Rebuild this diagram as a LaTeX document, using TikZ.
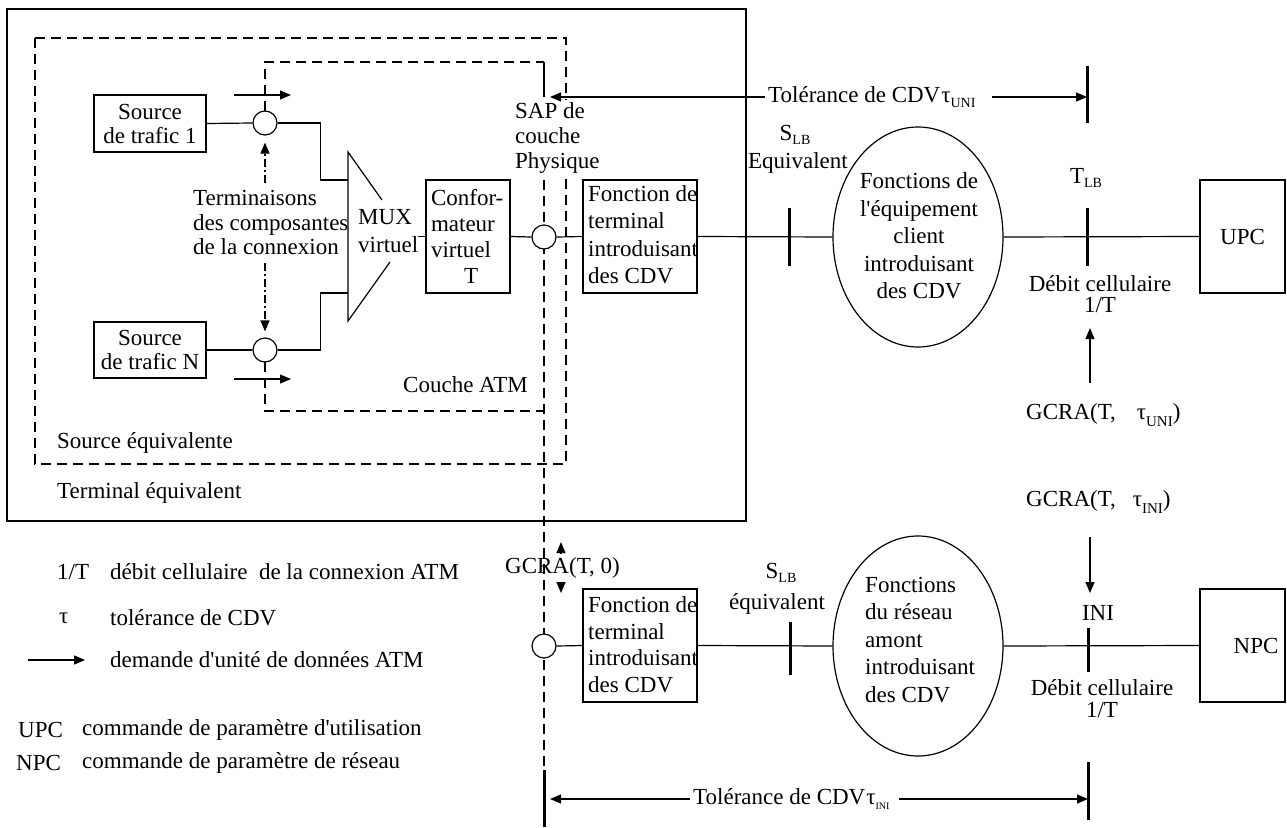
\documentclass[tikz,border=0pt]{standalone}
\usepackage{fontspec}
\setmainfont{Liberation Serif}
\usetikzlibrary{arrows.meta,shapes.geometric}
\newcommand\subs[1]{\raisebox{-0.45ex}{\fontsize{14}{14}\selectfont #1}}
\newcommand\tinysub[1]{\raisebox{-0.45ex}{\fontsize{10}{10}\selectfont #1}}
\newcommand\qs{\textquotesingle}
\begin{document}
\begin{tikzpicture}[x=1pt,y=-1pt,font=\fontsize{23}{27}\selectfont,
  ln/.style={line width=1.2pt},
  box/.style={draw,line width=1.2pt,inner sep=0pt},
  tk/.style={line width=3pt},
  dbox/.style={line width=2.4pt,dash pattern=on 10pt off 6pt},
  arr/.style={line width=1.2pt,-{Triangle[length=11pt,width=9pt]}},
  ddarr/.style={line width=1.2pt,dash pattern=on 8pt off 3pt on 2pt off 3pt,-{Triangle[length=11pt,width=9pt]}},
  circ/.style={circle,draw,fill=white,line width=1.2pt,minimum size=24pt,inner sep=0pt},
  txt/.style={inner sep=0pt}]
\useasboundingbox (0,0) rectangle (1287,827);

% frames
\draw[ln] (7,9) rectangle (746,521);
\draw[dbox] (35,38) rectangle (566,464);
\draw[dbox] (265,111) -- (265,62) -- (544,62);
\draw[dbox] (265,362) -- (265,411) -- (544,411);
\draw[dbox] (544,180) -- (544,770);
\draw[line width=2.4pt] (544,62) -- (544,97);
\draw[tk] (544,770) -- (544,827);

% nodes
\node[box,minimum width=112pt,minimum height=57pt,align=center,font=\fontsize{23}{24}\selectfont] (s1) at (150,123.5) {Source\\de trafic 1};
\node[box,minimum width=112pt,minimum height=56pt,align=center,font=\fontsize{23}{24}\selectfont] (sN) at (150,350) {Source\\de trafic N};
\node[circ] (c1) at (265,123) {};
\node[circ] (cN) at (265,350) {};
\node[circ] (cS) at (544,237) {};
\node[circ] (cL) at (544,646) {};
\coordinate (m1) at (348,180);
\coordinate (m2) at (348,293);
\draw[ln] (382,200) -- (348,152) -- (348,321) -- (390,262);
\node[txt,anchor=west,align=left,font=\fontsize{23}{28}\selectfont] (mux) at (358,231) {MUX\\virtuel};
\node[box,text width=74pt,inner xsep=5pt,minimum height=113pt,align=left,font=\fontsize{23}{26}\selectfont] (conf) at (468,236.5) {Confor-\\mateur\\virtuel\\\hspace*{33pt}T};
\node[box,minimum width=114pt,minimum height=113pt] (fu) at (640,236.5) {};
\node[txt,anchor=west,align=left,font=\fontsize{23}{27.5}\selectfont] (fut) at (588,234.5) {Fonction de\\terminal\\introduisant\\des CDV};
\node[box,minimum width=114pt,minimum height=113pt] (fl) at (640,645.5) {};
\node[txt,anchor=west,align=left,font=\fontsize{23}{26.5}\selectfont] (flt) at (588,644.5) {Fonction de\\terminal\\introduisant\\des CDV};
\node[ellipse,draw,line width=1.2pt,minimum width=170pt,minimum height=220pt,inner sep=0pt] (eu) at (918,237) {};
\node[txt,align=center,font=\fontsize{23}{27.5}\selectfont] (eut) at (919,236) {Fonctions de\\l\qs équipement\\client\\introduisant\\des CDV};
\node[ellipse,draw,line width=1.2pt,minimum width=170pt,minimum height=220pt,inner sep=0pt] (el) at (918,646) {};
\node[txt,anchor=west,align=left,font=\fontsize{23}{27.5}\selectfont] (elt) at (865,640) {Fonctions\\du réseau\\amont\\introduisant\\des CDV};
\node[box,minimum width=85pt,minimum height=113pt] (upc) at (1242.5,236.5) {UPC};
\node[box,minimum width=85pt,minimum height=113pt] (npc) at (1242.5,645.5) {};
\node[txt] (npct) at (1256,646) {NPC};

% connectors
\draw[ln] (s1.east) -- (c1.west);
\draw[ln] (sN.east) -- (cN.west);
\draw[ln] (c1.east) -- ++(43,0) |- (m1);
\draw[ln] (cN.east) -- ++(43,0) |- (m2);
\draw[ln] (conf.west) -- (conf.west -| mux.east);
\draw[ln] (conf.east) -- (cS.west);
\draw[ln] (cS.east) -- (fu.west);
\draw[ln] (fu.east) -- (eu.west);
\draw[ln] (eu.east) -- (upc.west);
\draw[ln] (cL.east) -- (fl.west);
\draw[ln] (fl.east) -- (el.west);
\draw[ln] (el.east) -- (npc.west);

% ticks
\draw[tk] (789,208) -- (789,266);
\draw[tk] (1087,208) -- (1087,266);
\draw[tk] (790,622) -- (790,675);
\draw[tk] (1088,628) -- (1088,672);
\draw[tk] (1087,66) -- (1087,123);
\draw[tk] (1088,762) -- (1088,820);

% request arrows
\draw[arr] (234,95) -- (291,95);
\draw[arr] (234,379) -- (291,379);

% terminaisons
\node[txt,anchor=west,align=left,font=\fontsize{23}{24.5}\selectfont] (term) at (193,222.5) {Terminaisons\\des composantes\\de la connexion};
\coordinate (tA) at (265,183);
\coordinate (tB) at (265,263);
\draw[ddarr,shorten >=7pt] (tA) -- (c1.south);
\draw[ddarr,shorten >=6pt] (tB) -- (cN.north);

% labels in terminal
\node[txt,anchor=west,align=left,fill=white,inner ysep=3pt,font=\fontsize{23}{25}\selectfont] (sap) at (515,138) {SAP de\\couche\\Physique};
\node[txt,anchor=west] (catm) at (403,385) {Couche ATM};
\node[txt,anchor=west] (seq) at (57,443) {Source équivalente};
\node[txt,anchor=west] (teq) at (57,493) {Terminal équivalent};

% tolerance UNI
\node[txt,anchor=west,inner xsep=3pt] (tolU) at (765,97) {Tolérance de CDV\kern1pt τ\subs{UNI}};
\coordinate (sapTip) at (550,97);
\coordinate (tlbTop) at (1087,97);
\draw[arr] (tolU.west) -- (sapTip);
\draw[arr] ([xshift=13pt]tolU.east) -- (tlbTop);

% tolerance INI
\node[txt,anchor=west,inner xsep=3pt] (tolI) at (690,799) {Tolérance de CDV\kern1pt τ\tinysub{INI}};
\coordinate (iniL) at (550,799);
\coordinate (iniR) at (1088,799);
\draw[arr] (tolI.west) -- (iniL);
\draw[arr] ([xshift=6pt]tolI.east) -- (iniR);

% S_LB, T_LB etc
\node[txt] (slbU) at (795,135) {S\subs{LB}};
\node[txt] (equU) at (798,163) {Equivalent};
\node[txt] (slbL) at (781,573) {S\subs{LB}};
\node[txt] (equL) at (777,604) {équivalent};
\node[txt] (tlb) at (1086,178) {T\subs{LB}};
\node[txt] (ini) at (1098,613) {INI};
\node[txt,align=center,font=\fontsize{23}{21.5}\selectfont] (debU) at (1100,294) {Débit cellulaire\\1/T};
\node[txt,align=center,font=\fontsize{23}{22}\selectfont] (debL) at (1102,699) {Débit cellulaire\\1/T};
\node[txt,anchor=west] (gU) at (1026,415) {GCRA(T,\hspace{21pt}τ\raisebox{-0.7ex}{\fontsize{15}{15}\selectfont UNI})};
\node[txt,anchor=west] (gI) at (1026,502) {GCRA(T,\hspace{17pt}τ\raisebox{-0.7ex}{\fontsize{15}{15}\selectfont INI})};
\coordinate (gua) at (1090,383);
\coordinate (gub) at (1090,328);
\draw[arr] (gua) -- (gub);
\coordinate (gib) at (1090,537);
\coordinate (gie) at (1090,593);
\draw[arr] (gib) -- (gie);

% GCRA(T,0)
\node[txt,anchor=west] (g0) at (505,568) {GCRA(T, 0)};
\coordinate (g0u1) at (561,553);
\coordinate (g0u2) at (561,542);
\coordinate (g0d1) at (561,582);
\coordinate (g0d2) at (561,593);
\draw[arr] (g0u1) -- (g0u2);
\draw[arr] (g0d1) -- (g0d2);

% legend
\node[txt,anchor=west] (l1a) at (57,572) {1/T};
\node[txt,anchor=west] (l1b) at (110,572) {débit cellulaire\ \ de la connexion ATM};
\node[txt,anchor=west] (l2a) at (59,618) {τ};
\node[txt,anchor=west] (l2b) at (110,618) {tolérance de CDV};
\coordinate (la1) at (28,660);
\coordinate (la2) at (85,660);
\draw[arr] (la1) -- (la2);
\node[txt,anchor=west] (l3b) at (110,660) {demande d\qs unité de données ATM};
\node[txt,anchor=west] (l4a) at (18,730) {UPC};
\node[txt,anchor=west] (l4b) at (82,730) {commande de paramètre d\qs utilisation};
\node[txt,anchor=west] (l5a) at (16,763) {NPC};
\node[txt,anchor=west] (l5b) at (82,763) {commande de paramètre de réseau};
\end{tikzpicture}
\end{document}
